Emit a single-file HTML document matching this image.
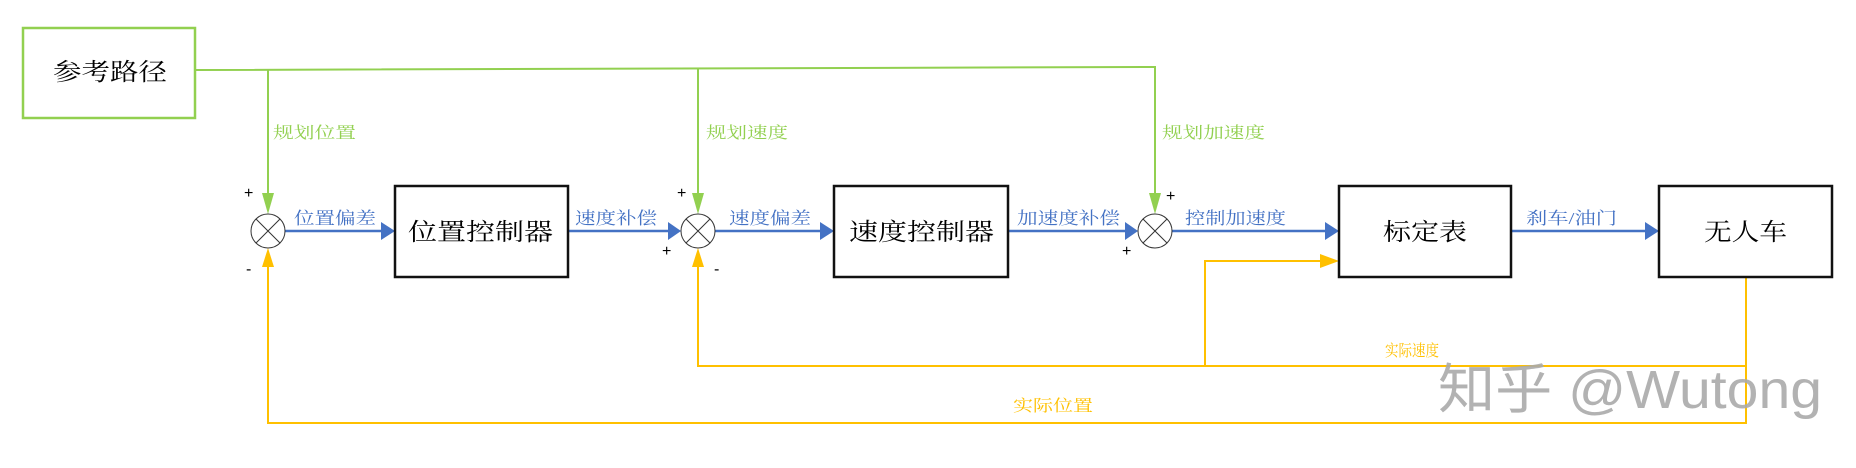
<!DOCTYPE html>
<html><head><meta charset="utf-8"><style>html,body{margin:0;padding:0;background:#fff}svg{display:block}</style></head><body>
<svg width="1856" height="468" viewBox="0 0 1856 468" xmlns="http://www.w3.org/2000/svg" font-family="'Liberation Serif','Noto Serif CJK SC',serif">
<!-- green -->
<rect x="23" y="28" width="172" height="90" fill="none" stroke="#92d050" stroke-width="2.5"/>
<polyline points="195,70 1155,67 1155,196" fill="none" stroke="#92d050" stroke-width="2"/>
<line x1="268" y1="70" x2="268" y2="196" stroke="#92d050" stroke-width="2"/>
<line x1="698" y1="68.5" x2="698" y2="196" stroke="#92d050" stroke-width="2"/>
<path d="M262,193 L274,193 L268,214z" fill="#92d050"/>
<path d="M692,193 L704,193 L698,214z" fill="#92d050"/>
<path d="M1149,193 L1161,193 L1155,214z" fill="#92d050"/>
<g fill="#92d050" font-size="16">
<text x="273" y="138" textLength="83" lengthAdjust="spacingAndGlyphs">规划位置</text>
<text x="706" y="138" textLength="82" lengthAdjust="spacingAndGlyphs">规划速度</text>
<text x="1162" y="138" textLength="103" lengthAdjust="spacingAndGlyphs">规划加速度</text>
</g>
<!-- yellow -->
<g fill="none" stroke="#ffc000" stroke-width="2">
<polyline points="1746,277 1746,423 268,423 268,260"/>
<polyline points="1746,366 698,366 698,260"/>
<polyline points="1205,366 1205,261 1325,261"/>
</g>
<path d="M262,267 L274,267 L268,248z" fill="#ffc000"/>
<path d="M692,267 L704,267 L698,248z" fill="#ffc000"/>
<path d="M1320,254 L1339,261 L1320,268z" fill="#ffc000"/>
<g fill="#ffc000" font-size="16">
<text x="1385" y="356" textLength="54" lengthAdjust="spacingAndGlyphs">实际速度</text>
<text x="1013" y="411" textLength="80" lengthAdjust="spacingAndGlyphs">实际位置</text>
</g>
<!-- blue -->
<g stroke="#4472c4" stroke-width="2.5">
<line x1="285" y1="231" x2="382" y2="231"/>
<line x1="568" y1="231" x2="669" y2="231"/>
<line x1="715" y1="231" x2="821" y2="231"/>
<line x1="1008" y1="231" x2="1126" y2="231"/>
<line x1="1172" y1="231" x2="1326" y2="231"/>
<line x1="1511" y1="231" x2="1646" y2="231"/>
</g>
<g fill="#4472c4">
<path d="M381,222 L395,231 L381,240z"/>
<path d="M668,222 L681,231 L668,240z"/>
<path d="M820,222 L834,231 L820,240z"/>
<path d="M1125,222 L1138,231 L1125,240z"/>
<path d="M1325,222 L1339,231 L1325,240z"/>
<path d="M1645,222 L1659,231 L1645,240z"/>
</g>
<g fill="#4472c4" font-size="17">
<text x="294" y="224" textLength="82" lengthAdjust="spacingAndGlyphs">位置偏差</text>
<text x="575" y="224" textLength="82" lengthAdjust="spacingAndGlyphs">速度补偿</text>
<text x="729" y="224" textLength="82" lengthAdjust="spacingAndGlyphs">速度偏差</text>
<text x="1017" y="224" textLength="103" lengthAdjust="spacingAndGlyphs">加速度补偿</text>
<text x="1185" y="224" textLength="101" lengthAdjust="spacingAndGlyphs">控制加速度</text>
<text x="1526" y="224" textLength="91" lengthAdjust="spacingAndGlyphs">刹车/油门</text>
</g>
<!-- junctions -->
<g fill="#fff" stroke="#333" stroke-width="1">
<ellipse cx="268" cy="231" rx="17" ry="17"/>
<ellipse cx="698" cy="231" rx="17" ry="17"/>
<ellipse cx="1155" cy="231" rx="17" ry="17"/>
</g>
<g stroke="#333" stroke-width="1">
<path d="M256,219 L280,243 M280,219 L256,243"/>
<path d="M686,219 L710,243 M710,219 L686,243"/>
<path d="M1143,219 L1167,243 M1167,219 L1143,243"/>
</g>
<g fill="#000" font-family="'Liberation Sans',sans-serif" font-size="16">
<text x="244" y="198">+</text><text x="246" y="274">-</text>
<text x="677" y="198">+</text><text x="662" y="256">+</text><text x="714" y="274">-</text>
<text x="1166" y="201">+</text><text x="1122" y="256">+</text>
</g>
<!-- boxes -->
<g fill="none" stroke="#111" stroke-width="2.5">
<rect x="395" y="186" width="173" height="91"/>
<rect x="834" y="186" width="174" height="91"/>
<rect x="1339" y="186" width="172" height="91"/>
<rect x="1659" y="186" width="173" height="91"/>
</g>
<g fill="#000" font-size="24">
<text x="408" y="240" textLength="145" lengthAdjust="spacingAndGlyphs">位置控制器</text>
<text x="849" y="240" textLength="145" lengthAdjust="spacingAndGlyphs">速度控制器</text>
<text x="1383" y="240" textLength="84" lengthAdjust="spacingAndGlyphs">标定表</text>
<text x="1704" y="240" textLength="83" lengthAdjust="spacingAndGlyphs">无人车</text>
<text x="53" y="80" textLength="114" lengthAdjust="spacingAndGlyphs">参考路径</text>
</g>
<!-- watermark -->
<text x="1438" y="408" font-family="'Liberation Sans','Noto Sans CJK SC',sans-serif" font-size="54" fill="#aaa" fill-opacity="0.9" textLength="384" lengthAdjust="spacingAndGlyphs">知乎 @Wutong</text>
</svg>
</body></html>
